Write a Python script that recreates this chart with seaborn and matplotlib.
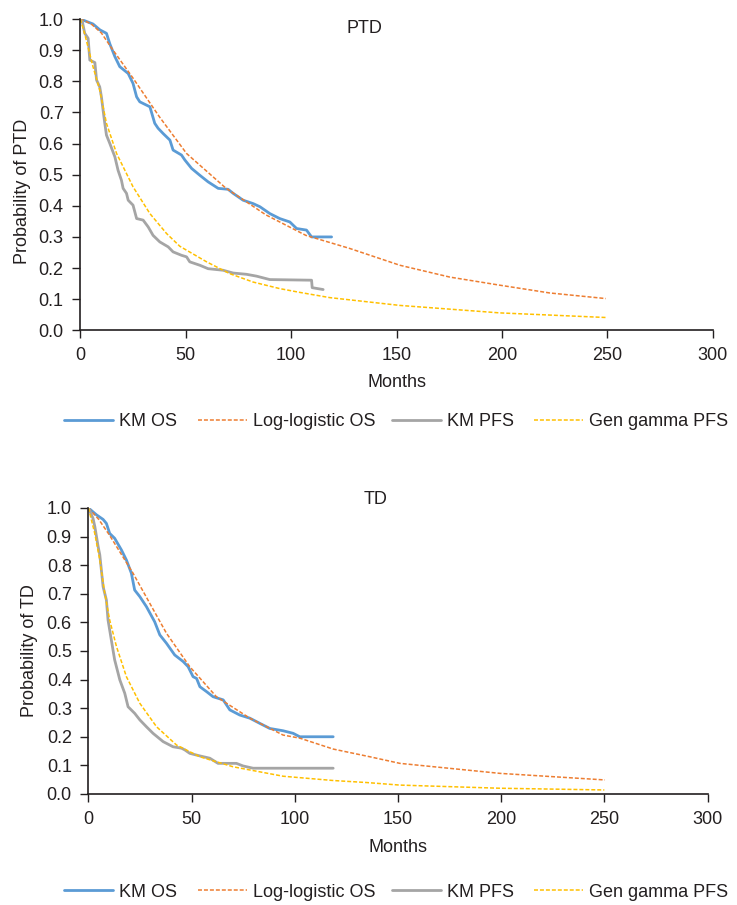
import matplotlib
matplotlib.use('Agg')
import matplotlib.pyplot as plt
import seaborn as sns
import pandas as pd
from matplotlib.lines import Line2D

# PTD panel
ptd_km_os_m = [0, 6, 9.3, 12.4, 14, 16.4, 18.7, 22.7, 25, 26.7, 28.2, 33, 35.3, 36.9, 39.3, 42.5, 44, 48, 49.6,
               52.8, 56.7, 60.6, 65.4, 70.1, 72.5, 77.2, 82, 85.2, 89.9, 94.6, 99.4, 102.6, 107.3, 109.7, 119.2]
ptd_km_os_p = [1.0, 0.984, 0.965, 0.954, 0.92, 0.879, 0.847, 0.825, 0.793, 0.75, 0.734, 0.718, 0.665, 0.649, 0.632,
               0.611, 0.579, 0.563, 0.547, 0.52, 0.498, 0.477, 0.456, 0.453, 0.44, 0.418, 0.407, 0.397, 0.375, 0.359,
               0.348, 0.327, 0.322, 0.3, 0.3]

ptd_km_pfs_m = [0, 1, 2.1, 3.7, 4.5, 6.9, 7.7, 9.2, 10, 10.8, 11.6, 12.4, 14, 16.4, 17.9, 19.5, 20.3, 21.9, 22.7, 25,
                26.7, 29.8, 32.2, 34.5, 37.7, 41.7, 44, 48, 50.4, 51.9, 56.7, 60.6, 67.7, 72.5, 78.8, 83.6, 89.9,
                109.7, 110, 115.2]
ptd_km_pfs_p = [1.0, 0.99, 0.954, 0.938, 0.868, 0.86, 0.804, 0.782, 0.75, 0.707, 0.665, 0.627, 0.6, 0.557, 0.514,
                0.482, 0.456, 0.44, 0.418, 0.402, 0.359, 0.354, 0.332, 0.305, 0.284, 0.268, 0.252, 0.241, 0.236, 0.22,
                0.209, 0.198, 0.193, 0.184, 0.18, 0.174, 0.163, 0.161, 0.137, 0.131]

ptd_ll_os_m = [0, 5, 10, 15, 25, 37.5, 50.4, 69, 88, 107, 127.8, 151.6, 175.3, 199, 222.7, 249.3]
ptd_ll_os_p = [1.0, 0.985, 0.955, 0.905, 0.81, 0.686, 0.568, 0.457, 0.371, 0.305, 0.263, 0.209, 0.171, 0.145, 0.12,
               0.102]

ptd_gg_pfs_m = [0, 2, 6, 9.2, 12.4, 17.2, 25, 33, 40.9, 47.2, 59.9, 70.9, 82, 94.6, 104, 118.4, 151.6, 199, 250]
ptd_gg_pfs_p = [1.0, 0.954, 0.847, 0.772, 0.665, 0.568, 0.461, 0.375, 0.311, 0.27, 0.22, 0.182, 0.155, 0.134, 0.122,
                0.105, 0.08, 0.056, 0.041]

# TD panel
td_km_os_m = [0, 3.9, 7.1, 8.7, 10.3, 12.7, 16, 18.4, 20.8, 22.4, 24.9, 28.1, 32.1, 34.6, 37.8, 41.8, 45.9, 48.3,
              50.7, 52.4, 54, 57.2, 60.4, 65.3, 68.5, 73.3, 78.2, 83, 87.9, 94.3, 99.2, 102.4, 118.6]
td_km_os_p = [1.0, 0.976, 0.96, 0.946, 0.911, 0.894, 0.853, 0.818, 0.772, 0.713, 0.69, 0.655, 0.602, 0.556, 0.527,
              0.486, 0.463, 0.445, 0.41, 0.404, 0.375, 0.358, 0.34, 0.329, 0.294, 0.276, 0.265, 0.247, 0.229, 0.221,
              0.212, 0.2, 0.2]

td_km_pfs_m = [0, 2.2, 3.1, 4.7, 5.5, 7.1, 8.7, 9.5, 11.1, 12.7, 15.2, 17.6, 19.2, 22.4, 24.9, 28.1, 31.3, 36.2, 41,
               45.1, 46.7, 49.1, 54, 58.8, 62.8, 71.7, 74.9, 79.8, 118.6]
td_km_pfs_p = [1.0, 0.964, 0.935, 0.865, 0.836, 0.725, 0.678, 0.608, 0.538, 0.469, 0.399, 0.352, 0.305, 0.282, 0.259,
               0.235, 0.212, 0.183, 0.165, 0.16, 0.154, 0.142, 0.133, 0.125, 0.107, 0.107, 0.098, 0.09, 0.09]

td_ll_os_m = [0, 5, 10.2, 21.6, 29.7, 37.8, 49.1, 62, 78.2, 94.3, 102.5, 118.6, 136.4, 150.9, 199.4, 250.3]
td_ll_os_p = [1.0, 0.96, 0.905, 0.772, 0.667, 0.562, 0.445, 0.34, 0.265, 0.206, 0.195, 0.157, 0.13, 0.107, 0.072,
              0.049]

td_gg_pfs_m = [0, 3.1, 5.5, 7.9, 10.3, 13.6, 18.4, 24.9, 33, 42.7, 54, 70.1, 94.3, 118.6, 134.7, 150.9, 199.4, 250]
td_gg_pfs_p = [1.0, 0.91, 0.818, 0.702, 0.608, 0.515, 0.41, 0.317, 0.235, 0.171, 0.13, 0.095, 0.062, 0.047, 0.04,
               0.031, 0.02, 0.014]

labels = ['KM OS', 'Log-logistic OS', 'KM PFS', 'Gen gamma PFS']
colors = ['#5B9BD5', '#ED7D31', '#A5A5A5', '#FFC000']
dash = (0, (2.6, 1.3))
ink = '#231f20'
fs = 13

sns.set_style("ticks")
plt.rcParams['font.family'] = ['Liberation Sans', 'DejaVu Sans']

fig = plt.figure(figsize=(7.37, 9.05), dpi=100)
ax1 = fig.add_axes([0.109, 0.635, 0.858, 0.344])
ax2 = fig.add_axes([0.120, 0.1227, 0.840, 0.316])


def draw_panel(ax, series, name, title_xy, ylab_xy, xpad):
    for (m, p), lab, col in zip(series, labels, colors):
        df = pd.DataFrame({'Months': m, 'Prob': p})
        dashed = 'Log' in lab or 'gamma' in lab
        sns.lineplot(data=df, x='Months', y='Prob', ax=ax, color=col, sort=False, estimator=None,
                     linewidth=1.1 if dashed else 2.0, linestyle=dash if dashed else '-')
    ax.set_xlim(0, 300)
    ax.set_ylim(0, 1.0)
    ax.set_xticks(range(0, 301, 50))
    ax.set_yticks([i / 10 for i in range(11)])
    ax.set_yticklabels(['{:.1f}'.format(i / 10) for i in range(11)])
    ax.tick_params(labelsize=fs, colors=ink, length=6, width=1, pad=6)
    for s in ['left', 'bottom']:
        ax.spines[s].set_color(ink)
        ax.spines[s].set_linewidth(1.2)
    ax.spines['top'].set_visible(False)
    ax.spines['right'].set_visible(False)
    ax.set_xlabel('Months', fontsize=fs, color=ink, labelpad=xpad)
    ax.set_ylabel('Probability of ' + name, fontsize=fs, color=ink)
    ax.yaxis.set_label_coords(*ylab_xy)
    ax.text(title_xy[0], title_xy[1], name, fontsize=fs, color=ink, ha='center', va='center',
            clip_on=False)


draw_panel(ax1, [(ptd_km_os_m, ptd_km_os_p), (ptd_ll_os_m, ptd_ll_os_p),
                 (ptd_km_pfs_m, ptd_km_pfs_p), (ptd_gg_pfs_m, ptd_gg_pfs_p)], 'PTD', (135, 0.97),
           (-0.078, 0.445), 7)
draw_panel(ax2, [(td_km_os_m, td_km_os_p), (td_ll_os_m, td_ll_os_p),
                 (td_km_pfs_m, td_km_pfs_p), (td_gg_pfs_m, td_gg_pfs_p)], 'TD', (139, 1.03),
           (-0.082, 0.5), 8)

# Legends below each panel, one entry each at fixed slots (like the Excel legend)
handles = [Line2D([], [], color=colors[0], lw=2.0),
           Line2D([], [], color=colors[1], lw=1.1, ls=dash),
           Line2D([], [], color=colors[2], lw=2.0),
           Line2D([], [], color=colors[3], lw=1.1, ls=dash)]
slot_x = [64, 198, 392, 534]
for ypos in [422, 892]:
    for h, lab, x0 in zip(handles, labels, slot_x):
        fig.legend([h], [lab], loc='center left', bbox_to_anchor=(x0 / 737, 1 - ypos / 905),
                   frameon=False, fontsize=fs, handlelength=2.7, handletextpad=0.35,
                   borderpad=0, borderaxespad=0, labelcolor=ink)

fig.savefig('out.png', dpi=100)
